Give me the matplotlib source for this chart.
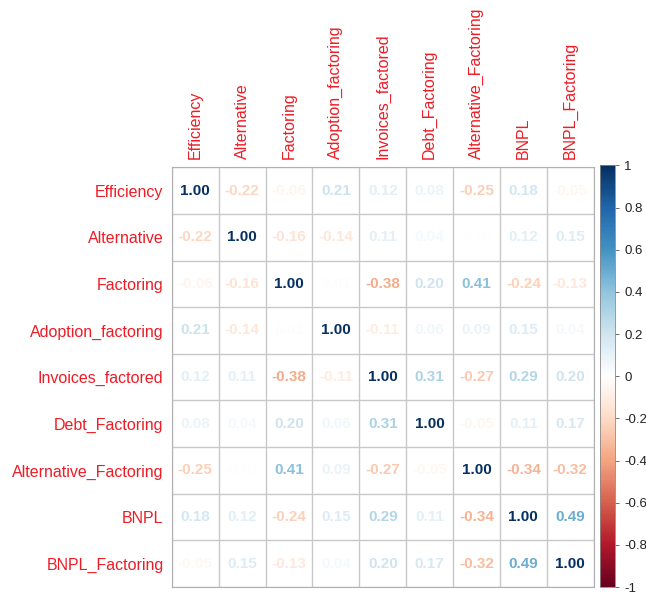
import numpy as np
import matplotlib
matplotlib.use("Agg")
import matplotlib.pyplot as plt
from matplotlib.colors import LinearSegmentedColormap, Normalize
from matplotlib.cm import ScalarMappable

plt.rcParams['font.family'] = ['Liberation Sans', 'DejaVu Sans']

variables = ["Efficiency", "Alternative", "Factoring", "Adoption_factoring",
             "Invoices_factored", "Debt_Factoring", "Alternative_Factoring",
             "BNPL", "BNPL_Factoring"]

corr = np.array([
    [1.00, -0.22, -0.06, 0.21, 0.12, 0.08, -0.25, 0.18, -0.05],
    [-0.22, 1.00, -0.16, -0.14, 0.11, 0.04, -0.01, 0.12, 0.15],
    [-0.06, -0.16, 1.00, 0.01, -0.38, 0.20, 0.41, -0.24, -0.13],
    [0.21, -0.14, 0.01, 1.00, -0.11, 0.06, 0.09, 0.15, 0.04],
    [0.12, 0.11, -0.38, -0.11, 1.00, 0.31, -0.27, 0.29, 0.20],
    [0.08, 0.04, 0.20, 0.06, 0.31, 1.00, -0.05, 0.11, 0.17],
    [-0.25, -0.01, 0.41, 0.09, -0.27, -0.05, 1.00, -0.34, -0.32],
    [0.18, 0.12, -0.24, 0.15, 0.29, 0.11, -0.34, 1.00, 0.49],
    [-0.05, 0.15, -0.13, 0.04, 0.20, 0.17, -0.32, 0.49, 1.00],
])

cbar_ticks = [-1, -0.8, -0.6, -0.4, -0.2, 0, 0.2, 0.4, 0.6, 0.8, 1]

# RdBu palette as used by corrplot's COL2
rdbu = ["#67001F", "#B2182B", "#D6604D", "#F4A582", "#FDDBC7", "#FFFFFF",
        "#D1E5F0", "#92C5DE", "#4393C3", "#2166AC", "#053061"]
cmap = LinearSegmentedColormap.from_list("corr_rdbu", rdbu, N=200)
norm = Normalize(-1, 1)

fig = plt.figure(figsize=(6.46, 5.93), dpi=100)
ax = fig.add_axes([0.266, 0.010, 0.653, 0.708])

n = len(variables)
for i in range(n):
    for j in range(n):
        v = corr[i, j]
        ax.text(j + 0.5, i + 0.5, f"{v:.2f}", ha="center", va="center",
                fontsize=11, fontweight="bold", color=cmap(norm(v)))

ax.set_xlim(0, n)
ax.set_ylim(n, 0)
for k in range(n + 1):
    ax.axhline(k, color="#c8c8c8", lw=1.0)
    ax.axvline(k, color="#c8c8c8", lw=1.0)

ax.set_xticks(np.arange(n) + 0.5)
ax.set_yticks(np.arange(n) + 0.5)
ax.set_xticklabels(variables, rotation=90, color="#ee1c25", fontsize=11.5)
ax.set_yticklabels(variables, color="#ee1c25", fontsize=11.5)
ax.xaxis.tick_top()
ax.tick_params(length=0, pad=6)
for s in ax.spines.values():
    s.set_color("#b0b0b0")

# colour legend
cax = fig.add_axes([0.929, 0.010, 0.023, 0.711])
cb = fig.colorbar(ScalarMappable(norm=norm, cmap=cmap), cax=cax, ticks=cbar_ticks)
cb.ax.set_yticklabels([f"{t:g}" for t in cbar_ticks])
cb.ax.tick_params(labelsize=9.5, length=3, width=0.6, color="#555555", labelcolor="#222222")
cb.outline.set_edgecolor("#888888")
cb.outline.set_linewidth(0.6)

fig.savefig("out.png", dpi=100, facecolor="white")
